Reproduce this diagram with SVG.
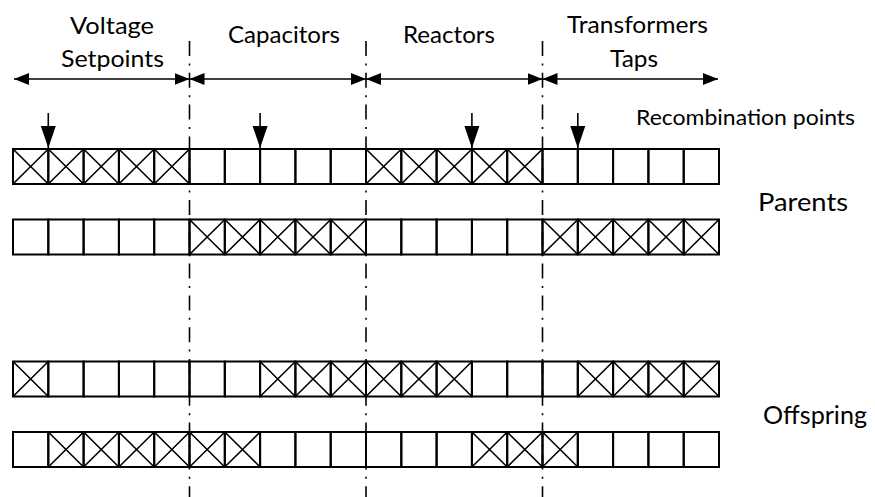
<svg xmlns="http://www.w3.org/2000/svg" xmlns:xlink="http://www.w3.org/1999/xlink" width="875" height="497" viewBox="0 0 875 497">
<style>
.bg{fill:#fff}
.cell{fill:none;stroke:#000;stroke-width:2}
.diag{fill:none;stroke:#000;stroke-width:1.6}
.div{fill:none;stroke:#000;stroke-width:1.6;stroke-dasharray:15 7.4 2 7.4}
.harr{fill:none;stroke:#000;stroke-width:1.6;marker-start:url(#hh);marker-end:url(#hh)}
.varr{fill:none;stroke:#000;stroke-width:1.6;marker-end:url(#vh)}
text{font-family:Lato,"Open Sans","Liberation Sans",sans-serif;fill:#000}
.lab{font-size:24px;text-anchor:start}
</style>
<defs>
<marker id="hh" markerUnits="userSpaceOnUse" markerWidth="16" markerHeight="13" refX="15" refY="6" orient="auto-start-reverse" viewBox="0 0 16 12">
<path d="M0,0L15,6L0,12z" fill="#000"/>
</marker>
<marker id="vh" markerUnits="userSpaceOnUse" markerWidth="23" markerHeight="16" refX="22" refY="7.5" orient="auto" viewBox="0 0 23 15">
<path d="M0,0L22,7.5L0,15z" fill="#000"/>
</marker>
<g id="xc"><rect width="35.3" height="35" class="cell"/><path d="M0,0L35.3,35M35.3,0L0,35" class="diag"/></g>
<rect id="ec" width="35.3" height="35" class="cell"/>
</defs>
<rect class="bg" width="875" height="497"/>

<g id="labels">
<text class="lab" x="70" y="34" textLength="84" lengthAdjust="spacingAndGlyphs">Voltage</text>
<text class="lab" x="61" y="66.5" textLength="103" lengthAdjust="spacingAndGlyphs">Setpoints</text>
<text class="lab" x="228" y="43.3" textLength="112" lengthAdjust="spacingAndGlyphs">Capacitors</text>
<text class="lab" x="403" y="43.3" textLength="92" lengthAdjust="spacingAndGlyphs">Reactors</text>
<text class="lab" x="567" y="33.3" textLength="141" lengthAdjust="spacingAndGlyphs">Transformers</text>
<text class="lab" x="610" y="66.5" textLength="48" lengthAdjust="spacingAndGlyphs">Taps</text>
<text x="636" y="124.5" font-size="21" textLength="219" lengthAdjust="spacingAndGlyphs">Recombination points</text>
<text x="758" y="211" font-size="25" textLength="90" lengthAdjust="spacingAndGlyphs">Parents</text>
<text x="763" y="424" font-size="25" textLength="104" lengthAdjust="spacingAndGlyphs">Offspring</text>
</g>

<g id="connectors">
<line class="div" x1="189.5" y1="41" x2="189.5" y2="497"/>
<line class="div" x1="366" y1="41" x2="366" y2="497"/>
<line class="div" x1="542.5" y1="41" x2="542.5" y2="497"/>
<line class="harr" x1="14" y1="79" x2="189.5" y2="79"/>
<line class="harr" x1="189.5" y1="79" x2="366" y2="79"/>
<line class="harr" x1="366" y1="79" x2="542.5" y2="79"/>
<line class="harr" x1="542.5" y1="79" x2="718" y2="79"/>
<line class="varr" x1="48.3" y1="113" x2="48.3" y2="148"/>
<line class="varr" x1="260.1" y1="113" x2="260.1" y2="148"/>
<line class="varr" x1="471.9" y1="113" x2="471.9" y2="148"/>
<line class="varr" x1="577.8" y1="113" x2="577.8" y2="148"/>
</g>

<g id="parent1" transform="translate(0,149)">
<use xlink:href="#xc" x="13"/><use xlink:href="#xc" x="48.3"/><use xlink:href="#xc" x="83.6"/><use xlink:href="#xc" x="118.9"/><use xlink:href="#xc" x="154.2"/>
<use xlink:href="#ec" x="189.5"/><use xlink:href="#ec" x="224.8"/><use xlink:href="#ec" x="260.1"/><use xlink:href="#ec" x="295.4"/><use xlink:href="#ec" x="330.7"/>
<use xlink:href="#xc" x="366"/><use xlink:href="#xc" x="401.3"/><use xlink:href="#xc" x="436.6"/><use xlink:href="#xc" x="471.9"/><use xlink:href="#xc" x="507.2"/>
<use xlink:href="#ec" x="542.5"/><use xlink:href="#ec" x="577.8"/><use xlink:href="#ec" x="613.1"/><use xlink:href="#ec" x="648.4"/><use xlink:href="#ec" x="683.7"/>
</g>

<g id="parent2" transform="translate(0,219.5)">
<use xlink:href="#ec" x="13"/><use xlink:href="#ec" x="48.3"/><use xlink:href="#ec" x="83.6"/><use xlink:href="#ec" x="118.9"/><use xlink:href="#ec" x="154.2"/>
<use xlink:href="#xc" x="189.5"/><use xlink:href="#xc" x="224.8"/><use xlink:href="#xc" x="260.1"/><use xlink:href="#xc" x="295.4"/><use xlink:href="#xc" x="330.7"/>
<use xlink:href="#ec" x="366"/><use xlink:href="#ec" x="401.3"/><use xlink:href="#ec" x="436.6"/><use xlink:href="#ec" x="471.9"/><use xlink:href="#ec" x="507.2"/>
<use xlink:href="#xc" x="542.5"/><use xlink:href="#xc" x="577.8"/><use xlink:href="#xc" x="613.1"/><use xlink:href="#xc" x="648.4"/><use xlink:href="#xc" x="683.7"/>
</g>

<g id="offspring1" transform="translate(0,361.5)">
<use xlink:href="#xc" x="13"/><use xlink:href="#ec" x="48.3"/><use xlink:href="#ec" x="83.6"/><use xlink:href="#ec" x="118.9"/><use xlink:href="#ec" x="154.2"/>
<use xlink:href="#ec" x="189.5"/><use xlink:href="#ec" x="224.8"/><use xlink:href="#xc" x="260.1"/><use xlink:href="#xc" x="295.4"/><use xlink:href="#xc" x="330.7"/>
<use xlink:href="#xc" x="366"/><use xlink:href="#xc" x="401.3"/><use xlink:href="#xc" x="436.6"/><use xlink:href="#ec" x="471.9"/><use xlink:href="#ec" x="507.2"/>
<use xlink:href="#ec" x="542.5"/><use xlink:href="#xc" x="577.8"/><use xlink:href="#xc" x="613.1"/><use xlink:href="#xc" x="648.4"/><use xlink:href="#xc" x="683.7"/>
</g>

<g id="offspring2" transform="translate(0,432)">
<use xlink:href="#ec" x="13"/><use xlink:href="#xc" x="48.3"/><use xlink:href="#xc" x="83.6"/><use xlink:href="#xc" x="118.9"/><use xlink:href="#xc" x="154.2"/>
<use xlink:href="#xc" x="189.5"/><use xlink:href="#xc" x="224.8"/><use xlink:href="#ec" x="260.1"/><use xlink:href="#ec" x="295.4"/><use xlink:href="#ec" x="330.7"/>
<use xlink:href="#ec" x="366"/><use xlink:href="#ec" x="401.3"/><use xlink:href="#ec" x="436.6"/><use xlink:href="#xc" x="471.9"/><use xlink:href="#xc" x="507.2"/>
<use xlink:href="#xc" x="542.5"/><use xlink:href="#ec" x="577.8"/><use xlink:href="#ec" x="613.1"/><use xlink:href="#ec" x="648.4"/><use xlink:href="#ec" x="683.7"/>
</g>
</svg>
